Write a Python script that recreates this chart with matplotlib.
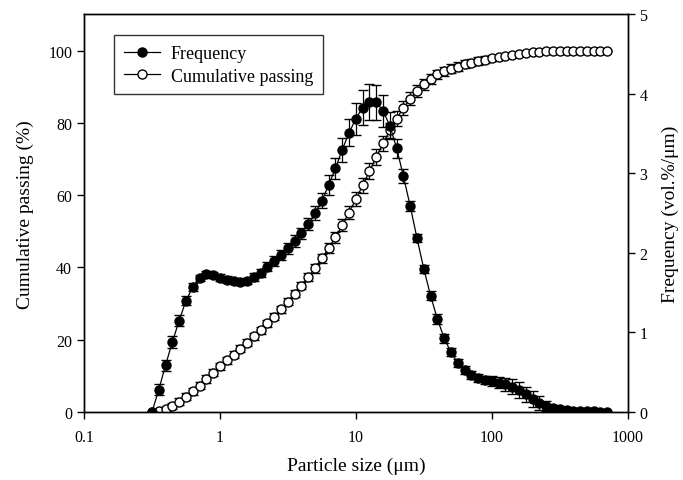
import numpy as np
import matplotlib
matplotlib.use("Agg")
import matplotlib.pyplot as plt
from matplotlib.ticker import FixedLocator, NullLocator
from matplotlib.lines import Line2D

# Particle sizes (um): 20 bins per decade from 0.316 to 708
size_um = [10 ** (-0.5 + 0.05 * i) for i in range(68)]

frequency = [0.00, 0.28, 0.59, 0.88, 1.15, 1.40, 1.57, 1.685, 1.735, 1.72,
             1.69, 1.665, 1.645, 1.635, 1.65, 1.70, 1.75, 1.83, 1.90, 1.975,
             2.06, 2.15, 2.25, 2.365, 2.50, 2.66, 2.855, 3.065, 3.30, 3.51,
             3.69, 3.83, 3.90, 3.895, 3.79, 3.60, 3.32, 2.965, 2.59, 2.185,
             1.80, 1.463, 1.17, 0.927, 0.75, 0.616, 0.53, 0.465, 0.43, 0.405,
             0.39, 0.37, 0.35, 0.32, 0.28, 0.22, 0.16, 0.11, 0.075, 0.05,
             0.035, 0.025, 0.018, 0.013, 0.01, 0.008, 0.006, 0.005]

frequency_err = [0.0, 0.07, 0.07, 0.07, 0.07, 0.06, 0.05, 0.04, 0.04, 0.04,
                 0.04, 0.04, 0.04, 0.04, 0.04, 0.05, 0.05, 0.06, 0.06, 0.06,
                 0.07, 0.07, 0.07, 0.08, 0.09, 0.10, 0.12, 0.13, 0.15, 0.17,
                 0.20, 0.22, 0.23, 0.22, 0.20, 0.17, 0.12, 0.09, 0.06, 0.05,
                 0.05, 0.06, 0.06, 0.06, 0.05, 0.05, 0.05, 0.05, 0.05, 0.05,
                 0.06, 0.07, 0.08, 0.09, 0.10, 0.10, 0.10, 0.09, 0.06, 0.04,
                 0.02, 0.01, 0.01, 0.01, 0.01, 0.0, 0.0, 0.0]

cumulative = [0.0, 0.3, 0.85, 1.75, 2.9, 4.2, 5.7, 7.3, 9.1, 10.9,
              12.6, 14.3, 15.9, 17.5, 19.2, 20.9, 22.6, 24.5, 26.4, 28.4,
              30.5, 32.7, 34.9, 37.3, 39.8, 42.5, 45.3, 48.4, 51.7, 55.2,
              58.9, 62.7, 66.6, 70.5, 74.3, 77.9, 81.2, 84.1, 86.7, 88.9,
              90.7, 92.2, 93.4, 94.3, 95.0, 95.6, 96.2, 96.7, 97.1, 97.5,
              97.9, 98.2, 98.6, 98.9, 99.2, 99.4, 99.6, 99.7, 99.8, 99.85,
              99.9, 99.92, 99.94, 99.95, 99.96, 99.97, 99.98, 100.0]

cumulative_err = [0.0, 0.3, 0.5, 0.8, 1.0, 1.0, 1.0, 1.0, 1.0, 1.0,
                  1.0, 1.0, 1.0, 1.0, 1.0, 1.0, 1.0, 1.0, 1.0, 1.0,
                  1.0, 1.0, 1.0, 1.1, 1.2, 1.3, 1.4, 1.5, 1.6, 1.8,
                  2.0, 2.1, 2.2, 2.2, 2.2, 2.2, 2.1, 2.0, 1.8, 1.6,
                  1.5, 1.4, 1.3, 1.3, 1.2, 1.2, 1.1, 1.0, 1.0, 0.9,
                  0.8, 0.7, 0.6, 0.5, 0.4, 0.3, 0.2, 0.2, 0.1, 0.1,
                  0.1, 0.1, 0.0, 0.0, 0.0, 0.0, 0.0, 0.0]

x_ticks = [0.1, 1, 10, 100, 1000]
x_tick_labels = ["0.1", "1", "10", "100", "1000"]
left_ticks = [0, 20, 40, 60, 80, 100]
right_ticks = [0, 1, 2, 3, 4, 5]

plt.rcParams['font.family'] = ['Liberation Serif', 'DejaVu Serif']

fig = plt.figure(figsize=(6.83, 4.81), dpi=100)
ax1 = fig.add_axes([0.123, 0.1414, 0.796, 0.8264])
ax2 = ax1.twinx()

ms = 6.5
ax1.errorbar(size_um, cumulative, yerr=cumulative_err, fmt='-o',
             color='black', mfc='white', mec='black', ms=ms, mew=1.0,
             lw=0.9, elinewidth=0.9, capsize=3.5, capthick=0.9)
ax2.errorbar(size_um, frequency, yerr=frequency_err, fmt='-o',
             color='black', mfc='black', mec='black', ms=ms, mew=1.0,
             lw=0.9, elinewidth=0.9, capsize=3.5, capthick=0.9)

ax1.set_xscale('log')
ax1.set_xlim(0.1, 1000)
ax1.set_ylim(0, 110)
ax2.set_ylim(0, 5)

ax1.xaxis.set_major_locator(FixedLocator(x_ticks))
ax1.set_xticklabels(x_tick_labels)
ax1.xaxis.set_minor_locator(NullLocator())
ax1.set_yticks(left_ticks)
ax2.set_yticks(right_ticks)

for ax in (ax1, ax2):
    ax.tick_params(direction='out', length=5, width=1, labelsize=11.5)
    for sp in ax.spines.values():
        sp.set_linewidth(1.0)
ax1.tick_params(axis='x', pad=7)

ax1.set_xlabel('Particle size (μm)', fontsize=14, labelpad=9)
ax1.set_ylabel('Cumulative passing (%)', fontsize=14, labelpad=10)
ax2.set_ylabel('Frequency (vol.%/μm)', fontsize=14, labelpad=10)

h_freq = Line2D([], [], color='black', lw=0.9, marker='o', ms=ms,
                mfc='black', mec='black')
h_cum = Line2D([], [], color='black', lw=0.9, marker='o', ms=ms,
               mfc='white', mec='black')
leg = ax2.legend([h_freq, h_cum], ['Frequency', 'Cumulative passing'],
                 loc='upper left', bbox_to_anchor=(0.055, 0.948),
                 borderaxespad=0, fontsize=13, frameon=True, fancybox=False,
                 edgecolor='black', borderpad=0.55, handlelength=2.0,
                 handletextpad=0.6, labelspacing=0.3)
leg.get_frame().set_linewidth(1.0)

fig.savefig('out.png', dpi=100)
